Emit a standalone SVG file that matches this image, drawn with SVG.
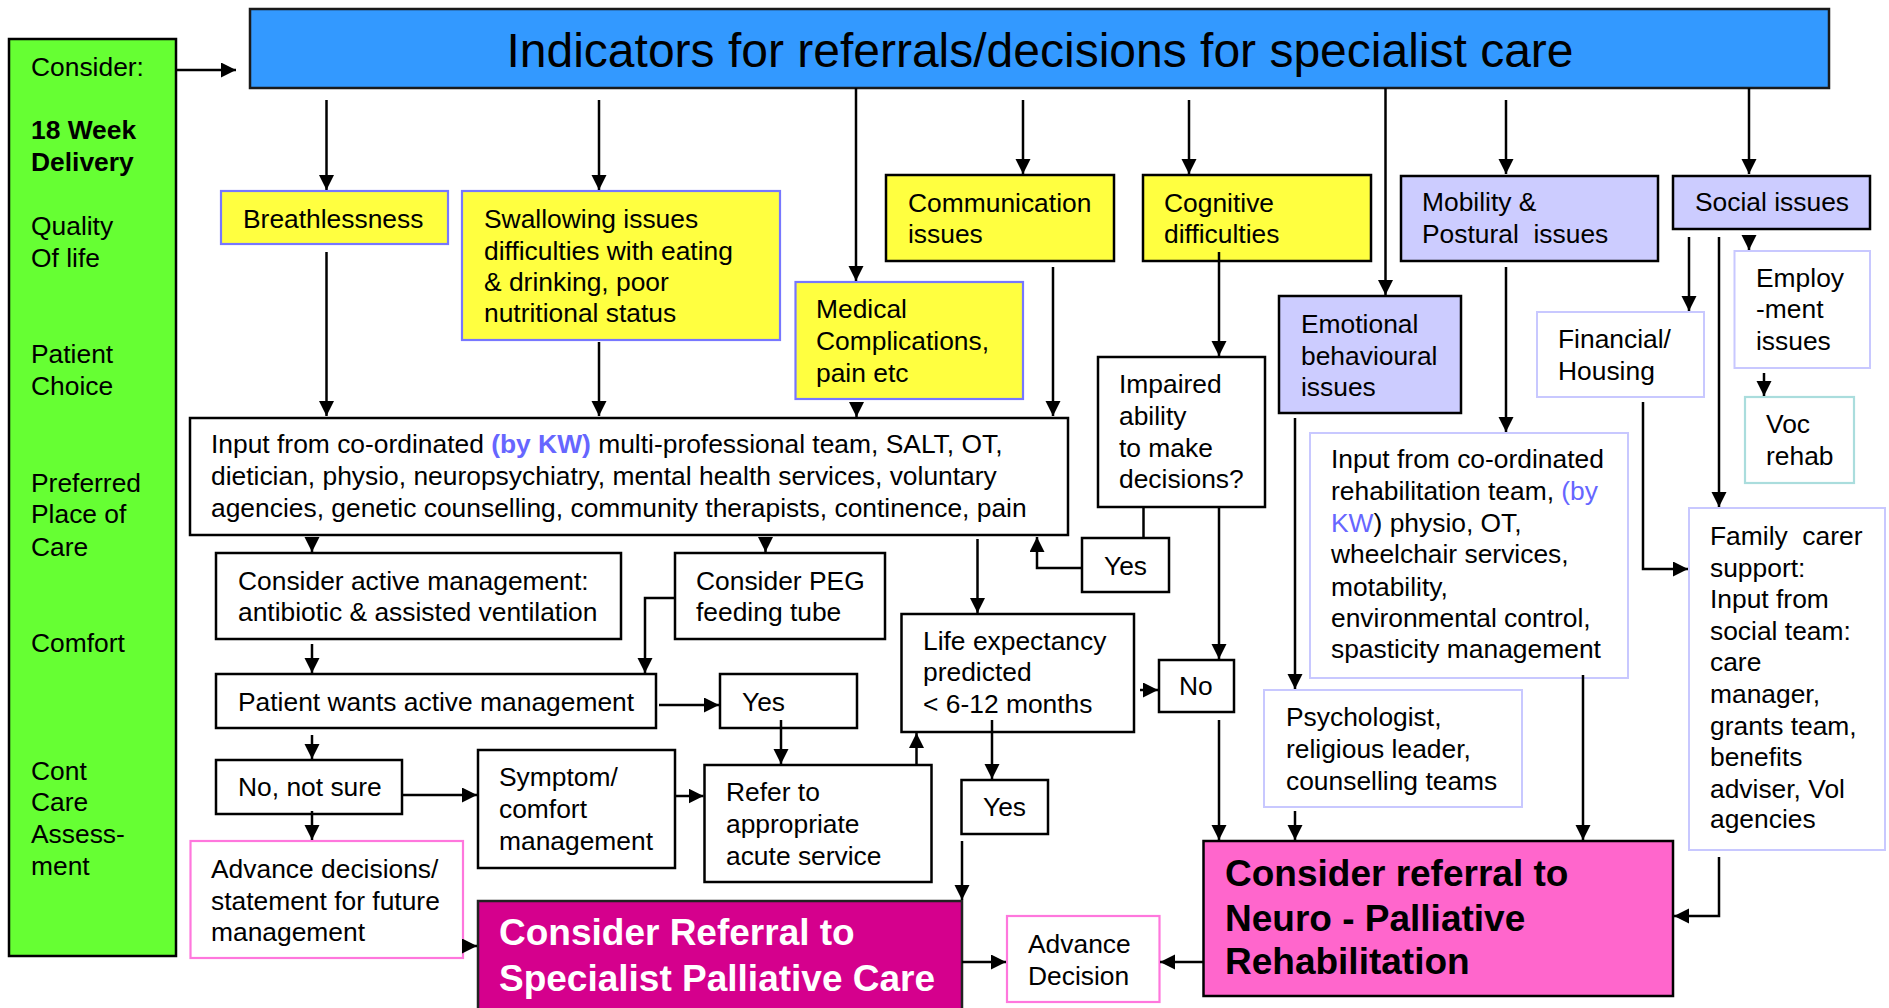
<svg xmlns="http://www.w3.org/2000/svg" width="1889" height="1008" viewBox="0 0 1889 1008">
<defs>
<marker id="ah" markerUnits="userSpaceOnUse" markerWidth="16" markerHeight="16" refX="15" refY="7.5" orient="auto"><path d="M0,0 L15,7.5 L0,15 z" fill="#000"/></marker>
<style>
text{font-family:"Liberation Sans",Arial,Helvetica,sans-serif;font-size:26.4px;fill:#000;white-space:pre}
.t{font-size:48px}
.b{stroke:#000;stroke-width:2.5;fill:#fff}
.lp{stroke:#c8c8ff;stroke-width:2;fill:#fff}
.yb{fill:#ffff40;stroke:#7777ff;stroke-width:2.2}
.yk{fill:#ffff40;stroke:#000;stroke-width:2.5}
.lav{fill:#ccccff;stroke:#000;stroke-width:2.5}
.pk{fill:#fff;stroke:#ff77dd;stroke-width:2.2}
.big{font-size:37px;font-weight:bold}
.w{fill:#fff}
.kw{fill:#6666ff}
#connectors line,#connectors polyline{stroke:#000;stroke-width:2.5;fill:none;marker-end:url(#ah)}
#connectors .nl{marker-end:none}
</style>
</defs>
<rect width="1889" height="1008" fill="#fff"/>

<g id="sidebar">
<rect x="9" y="39" width="167" height="917" fill="#66ff33" stroke="#000" stroke-width="2.5"/>
<text x="31" y="76">Consider:</text>
<text x="31" y="139" font-weight="bold">18 Week</text>
<text x="31" y="171" font-weight="bold">Delivery</text>
<text x="31" y="235">Quality</text>
<text x="31" y="267">Of life</text>
<text x="31" y="363">Patient</text>
<text x="31" y="395">Choice</text>
<text x="31" y="492">Preferred</text>
<text x="31" y="523">Place of</text>
<text x="31" y="556">Care</text>
<text x="31" y="652">Comfort</text>
<text x="31" y="780">Cont</text>
<text x="31" y="811">Care</text>
<text x="31" y="843">Assess-</text>
<text x="31" y="875">ment</text>
</g>

<g id="title">
<rect x="250" y="9" width="1579" height="79" fill="#3399ff" stroke="#1a1a1a" stroke-width="2.5"/>
<text class="t" x="1040" y="67" text-anchor="middle">Indicators for referrals/decisions for specialist care</text>
</g>

<g id="breath"><rect class="yb" x="221" y="191" width="227" height="53"/><text x="243" y="228">Breathlessness</text></g>
<g id="swallow"><rect class="yb" x="462" y="191" width="318" height="149"/>
<text x="484" y="228">Swallowing issues</text><text x="484" y="260">difficulties with eating</text><text x="484" y="291">&amp; drinking, poor</text><text x="484" y="322">nutritional status</text></g>
<g id="medical"><rect class="yb" x="795.5" y="282" width="227.5" height="117"/>
<text x="816" y="318">Medical</text><text x="816" y="350">Complications,</text><text x="816" y="382">pain etc</text></g>
<g id="comm"><rect class="yk" x="886" y="175" width="228" height="86"/>
<text x="908" y="212">Communication</text><text x="908" y="243">issues</text></g>
<g id="cog"><rect class="yk" x="1143" y="175" width="228" height="86"/>
<text x="1164" y="212">Cognitive</text><text x="1164" y="243">difficulties</text></g>
<g id="mobility"><rect class="lav" x="1401" y="176" width="257" height="85"/>
<text x="1422" y="211">Mobility &amp;</text><text x="1422" y="243">Postural  issues</text></g>
<g id="social"><rect class="lav" x="1673" y="176" width="197" height="53"/>
<text x="1695" y="211">Social issues</text></g>
<g id="emotional"><rect class="lav" x="1279" y="296" width="182" height="117"/>
<text x="1301" y="333">Emotional</text><text x="1301" y="365">behavioural</text><text x="1301" y="396">issues</text></g>
<g id="financial"><rect class="lp" x="1537" y="312" width="167" height="85"/>
<text x="1558" y="348">Financial/</text><text x="1558" y="380">Housing</text></g>
<g id="employ"><rect class="lp" x="1734.5" y="251" width="135.5" height="117"/>
<text x="1756" y="287">Employ</text><text x="1756" y="318">-ment</text><text x="1756" y="350">issues</text></g>
<g id="voc"><rect x="1745" y="397" width="109" height="86" fill="#fff" stroke="#aadddd" stroke-width="2.2"/>
<text x="1766" y="433">Voc</text><text x="1766" y="465">rehab</text></g>

<g id="input"><rect class="b" x="190" y="418" width="878" height="117"/>
<text x="211" y="453">Input from co-ordinated <tspan class="kw" font-weight="bold">(by KW)</tspan> multi-professional team, SALT, OT,</text>
<text x="211" y="485">dietician, physio, neuropsychiatry, mental health services, voluntary</text>
<text x="211" y="517">agencies, genetic counselling, community therapists, continence, pain</text></g>

<g id="impaired"><rect class="b" x="1098" y="357" width="167" height="150"/>
<text x="1119" y="393">Impaired</text><text x="1119" y="425">ability</text><text x="1119" y="457">to make</text><text x="1119" y="488">decisions?</text></g>

<g id="active"><rect class="b" x="216" y="553" width="405" height="86"/>
<text x="238" y="590">Consider active management:</text><text x="238" y="621">antibiotic &amp; assisted ventilation</text></g>
<g id="peg"><rect class="b" x="675" y="553" width="210" height="86"/>
<text x="696" y="590">Consider PEG</text><text x="696" y="621">feeding tube</text></g>
<g id="yes1"><rect class="b" x="1082" y="538" width="87" height="54"/><text x="1104" y="575">Yes</text></g>
<g id="life"><rect class="b" x="901.5" y="614" width="232.5" height="118"/>
<text x="923" y="650">Life expectancy</text><text x="923" y="681">predicted</text><text x="923" y="713">&lt; 6-12 months</text></g>
<g id="no1"><rect class="b" x="1159" y="660" width="75" height="52"/><text x="1179" y="695">No</text></g>
<g id="patient"><rect class="b" x="216" y="674" width="440" height="54"/><text x="238" y="711">Patient wants active management</text></g>
<g id="yes2"><rect class="b" x="720" y="674" width="137" height="54"/><text x="742" y="711">Yes</text></g>
<g id="nosure"><rect class="b" x="216" y="760" width="186" height="54"/><text x="238" y="796">No, not sure</text></g>
<g id="symptom"><rect class="b" x="478" y="750" width="197" height="118"/>
<text x="499" y="786">Symptom/</text><text x="499" y="818">comfort</text><text x="499" y="850">management</text></g>
<g id="refer"><rect class="b" x="704.5" y="765" width="227" height="117"/>
<text x="726" y="801">Refer to</text><text x="726" y="833">appropriate</text><text x="726" y="865">acute service</text></g>
<g id="yes3"><rect class="b" x="961.5" y="780" width="86.5" height="54"/><text x="983" y="816">Yes</text></g>
<g id="advdecisions"><rect class="pk" x="190.5" y="841" width="272.5" height="117"/>
<text x="211" y="878">Advance decisions/</text><text x="211" y="910">statement for future</text><text x="211" y="941">management</text></g>
<g id="palliative"><rect x="478" y="901" width="484" height="112" fill="#d5008d" stroke="#222" stroke-width="2.5"/>
<text class="big w" x="499" y="945">Consider Referral to</text>
<text class="big w" x="499" y="991">Specialist Palliative Care</text></g>
<g id="advdecision"><rect class="pk" x="1007" y="916" width="152.5" height="86"/>
<text x="1028" y="953">Advance</text><text x="1028" y="985">Decision</text></g>
<g id="neuro"><rect x="1203.5" y="841" width="469.5" height="155" fill="#ff66cc" stroke="#000" stroke-width="2.5"/>
<text class="big" x="1225" y="886">Consider referral to</text><text class="big" x="1225" y="931">Neuro - Palliative</text><text class="big" x="1225" y="974">Rehabilitation</text></g>
<g id="rehab"><rect class="lp" x="1310" y="433" width="318" height="245"/>
<text x="1331" y="468">Input from co-ordinated</text>
<text x="1331" y="500">rehabilitation team, <tspan class="kw">(by</tspan></text>
<text x="1331" y="532"><tspan class="kw">KW</tspan>) physio, OT,</text>
<text x="1331" y="563">wheelchair services,</text>
<text x="1331" y="596">motability,</text>
<text x="1331" y="627">environmental control,</text>
<text x="1331" y="658">spasticity management</text></g>
<g id="psych"><rect class="lp" x="1264" y="690" width="258" height="117"/>
<text x="1286" y="726">Psychologist,</text><text x="1286" y="758">religious leader,</text><text x="1286" y="790">counselling teams</text></g>
<g id="family"><rect class="lp" x="1689" y="508" width="196" height="342"/>
<text x="1710" y="545">Family  carer</text><text x="1710" y="577">support:</text><text x="1710" y="608">Input from</text><text x="1710" y="640">social team:</text><text x="1710" y="671">care</text><text x="1710" y="703">manager,</text><text x="1710" y="735">grants team,</text><text x="1710" y="766">benefits</text><text x="1710" y="798">adviser, Vol</text><text x="1710" y="828">agencies</text></g>

<g id="connectors">
<line x1="176" y1="70" x2="236" y2="70"/>
<line x1="326.5" y1="100" x2="326.5" y2="190"/>
<line x1="599" y1="100" x2="599" y2="190"/>
<line x1="856" y1="88" x2="856" y2="281"/>
<line x1="1023" y1="100" x2="1023" y2="174"/>
<line x1="1189" y1="100" x2="1189" y2="174"/>
<line x1="1385.5" y1="88" x2="1385.5" y2="295"/>
<line x1="1506" y1="100" x2="1506" y2="174"/>
<line x1="1749" y1="88" x2="1749" y2="174"/>
<line x1="326.5" y1="252" x2="326.5" y2="416"/>
<line x1="599" y1="342" x2="599" y2="416"/>
<line x1="856.5" y1="402" x2="856.5" y2="417"/>
<line x1="1053" y1="267" x2="1053" y2="416"/>
<line x1="1219" y1="252" x2="1219" y2="356"/>
<line x1="312" y1="537" x2="312" y2="552"/>
<line x1="765.5" y1="537" x2="765.5" y2="552"/>
<line x1="977.5" y1="539" x2="977.5" y2="613"/>
<line class="nl" x1="1143.5" y1="507" x2="1143.5" y2="538"/>
<polyline points="1082,568 1037,568 1037,537"/>
<line x1="1219" y1="508" x2="1219" y2="659"/>
<line x1="312" y1="644" x2="312" y2="673"/>
<polyline points="675,598 645,598 645,673"/>
<line x1="659" y1="705" x2="719" y2="705"/>
<line x1="312" y1="735" x2="312" y2="759"/>
<line x1="402" y1="795" x2="477" y2="795"/>
<line x1="312" y1="811" x2="312" y2="840"/>
<line x1="463" y1="946" x2="477" y2="946"/>
<line x1="781" y1="720" x2="781" y2="764"/>
<line x1="675" y1="796" x2="703.5" y2="796"/>
<line x1="916.5" y1="765" x2="916.5" y2="733"/>
<line x1="1140" y1="690" x2="1158" y2="690"/>
<line x1="992" y1="720" x2="992" y2="779"/>
<line x1="962" y1="841" x2="962" y2="900"/>
<line x1="1219" y1="720" x2="1219" y2="840"/>
<line x1="962" y1="962" x2="1006" y2="962"/>
<line x1="1203.5" y1="962" x2="1160" y2="962"/>
<line x1="1295" y1="418" x2="1295" y2="689"/>
<line x1="1506" y1="267" x2="1506" y2="432"/>
<line x1="1295" y1="811" x2="1295" y2="840"/>
<line x1="1583" y1="675" x2="1583" y2="840"/>
<line x1="1689" y1="237" x2="1689" y2="311"/>
<line x1="1719" y1="237" x2="1719" y2="507"/>
<line x1="1749" y1="236" x2="1749" y2="250"/>
<line x1="1764" y1="373" x2="1764" y2="396"/>
<polyline points="1643,402 1643,569 1688,569"/>
<polyline points="1719,857 1719,916 1674,916"/>
</g>
</svg>
